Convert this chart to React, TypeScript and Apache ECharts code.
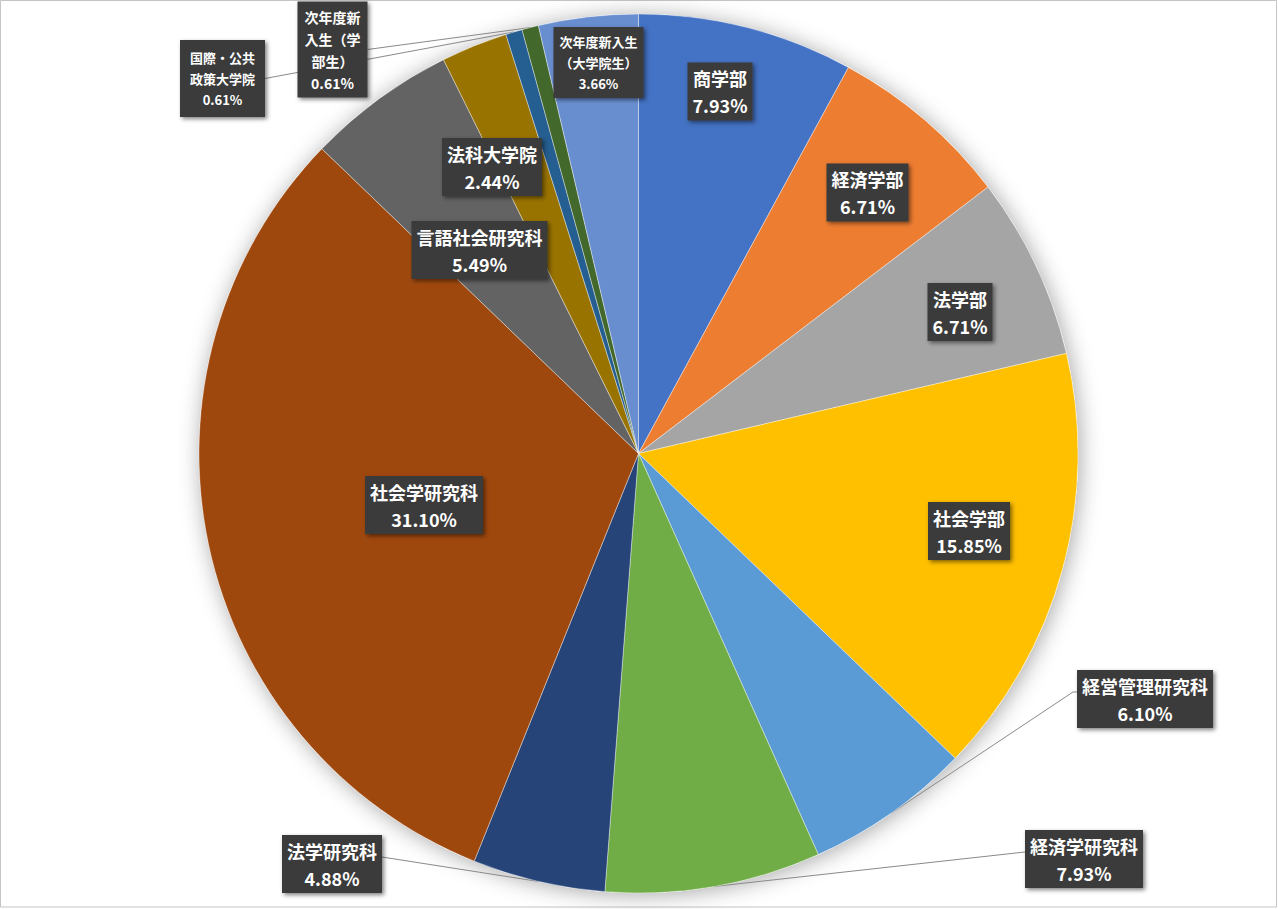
import React, { useEffect, useRef } from 'react';
import * as echarts from 'echarts';

// ---- data ----
const categories = [
  '商学部',
  '経済学部',
  '法学部',
  '社会学部',
  '経営管理研究科',
  '経済学研究科',
  '法学研究科',
  '社会学研究科',
  '言語社会研究科',
  '法科大学院',
  '国際・公共政策大学院',
  '次年度新入生（学部生）',
  '次年度新入生（大学院生）',
];
const counts = [13, 11, 11, 26, 10, 13, 8, 51, 9, 4, 1, 1, 6];
const labelNames = [
  '商学部',
  '経済学部',
  '法学部',
  '社会学部',
  '経営管理研究科',
  '経済学研究科',
  '法学研究科',
  '社会学研究科',
  '言語社会研究科',
  '法科大学院',
  '国際・公共\n政策大学院',
  '次年度新\n入生（学\n部生）',
  '次年度新入生\n（大学院生）',
];
const colors = [
  '#4472C4', '#ED7D31', '#A5A5A5', '#FFC000', '#5B9BD5', '#70AD47', '#264478',
  '#9E480E', '#636363', '#997300', '#255E91', '#43682B', '#698ED0',
];

// ---- layout ----
const W = 1278;
const H = 909;
const CX = 638.5;
const CY = 453.5;
const R = 439.5;
const FONT = "'Noto Sans CJK JP', 'Noto Sans', sans-serif";

const labelBox: [number, number][] = [
  [720, 91.5],
  [867.5, 192.5],
  [960, 312],
  [969, 531],
  [1145, 699],
  [1084, 859],
  [332, 864],
  [424, 505],
  [479.5, 250],
  [492, 167],
  [222.5, 78.5],
  [332.5, 49.5],
  [598.5, 62.5],
];
// side: -1 = line enters left edge of box, +1 = right edge
const leaders: Record<number, { side: number; dy: number; stub: number }> = {
  4: { side: -1, dy: -7, stub: 4 },
  5: { side: -1, dy: -7, stub: 0 },
  6: { side: 1, dy: -7, stub: 0 },
  10: { side: 1, dy: 0, stub: 0 },
  11: { side: 1, dy: 0, stub: 0 },
};
const smallStyles: Record<number, any> = {
  10: { fontSize: 13, lineHeight: 21, padding: [7, 10] },
  11: { fontSize: 14, lineHeight: 22, padding: [4, 7] },
  12: { fontSize: 13, lineHeight: 21, padding: [4, 6] },
};

const total = counts.reduce((a, b) => a + b, 0);

function midAngle(i: number): number {
  let cum = 0;
  for (let k = 0; k < i; k++) cum += counts[k];
  cum += counts[i] / 2;
  return (cum / total) * Math.PI * 2;
}

export default function App() {
  const ref = useRef<HTMLDivElement>(null);

  useEffect(() => {
    document.body.style.margin = '0';
    if (!ref.current) return;
    const chart = echarts.init(ref.current, undefined, { renderer: 'svg' });

    const data = counts.map((v, i) => {
      const isOut = leaders[i] != null;
      return {
        name: categories[i],
        value: v,
        itemStyle: { color: colors[i] },
        label: {
          position: isOut ? 'outside' : 'inside',
          ...(smallStyles[i] || {}),
        },
        labelLine: { show: isOut },
      };
    });

    const option: any = {
      animation: false,
      backgroundColor: '#ffffff',
      graphic: [
        {
          type: 'rect',
          silent: true,
          z: -10,
          shape: { x: 0.5, y: 0.5, width: 1276, height: 906.5 },
          style: { fill: 'none', stroke: '#c4c4c4', lineWidth: 1 },
        },
      ],
      series: [
        {
          type: 'pie',
          silent: true,
          z: 1,
          center: [CX, CY],
          radius: R,
          startAngle: 90,
          label: { show: false },
          labelLine: { show: false },
          emphasis: { disabled: true },
          itemStyle: {
            color: '#ffffff',
            shadowBlur: 22,
            shadowColor: 'rgba(0,0,0,0.35)',
            shadowOffsetX: 2,
            shadowOffsetY: 2,
          },
          data: [{ value: 1, name: '' }],
        },
        {
          type: 'pie',
          silent: true,
          z: 2,
          center: [CX, CY],
          radius: R,
          startAngle: 90,
          clockwise: true,
          avoidLabelOverlap: false,
          emphasis: { disabled: true },
          itemStyle: {
            borderColor: 'rgba(255,255,255,0.55)',
            borderWidth: 0.7,
          },
          label: {
            show: true,
            position: 'inside',
            color: '#ffffff',
            fontFamily: FONT,
            fontWeight: 'bold',
            fontSize: 18,
            lineHeight: 27,
            padding: [2, 5],
            align: 'center',
            backgroundColor: '#3b3b3b',
            shadowColor: 'rgba(0,0,0,0.5)',
            shadowBlur: 4,
            shadowOffsetX: 2,
            shadowOffsetY: 2,
            formatter: (p: any) =>
              labelNames[p.dataIndex] + '\n' + ((p.value / total) * 100).toFixed(2) + '%',
          },
          labelLine: {
            show: false,
            lineStyle: { color: '#8a8a8a', width: 1 },
          },
          labelLayout: (params: any) => {
            const i = params.dataIndex;
            const c = labelBox[i];
            const out: any = {
              x: c[0],
              y: c[1],
              align: 'center',
              verticalAlign: 'middle',
            };
            const ld = leaders[i];
            if (ld) {
              const a = midAngle(i);
              const px = CX + R * Math.sin(a);
              const py = CY - R * Math.cos(a);
              const w = params.labelRect ? params.labelRect.width : 0;
              const ax = c[0] + (ld.side * w) / 2;
              const ay = c[1] + ld.dy;
              const sx = ax + ld.side * ld.stub;
              out.labelLinePoints = [
                [px, py],
                [sx, ay],
                [ax, ay],
              ];
            }
            return out;
          },
          data,
        },
      ],
    };

    chart.setOption(option);
    return () => {
      chart.dispose();
    };
  }, []);

  return <div ref={ref} style={{ width: W, height: H }} />;
}
